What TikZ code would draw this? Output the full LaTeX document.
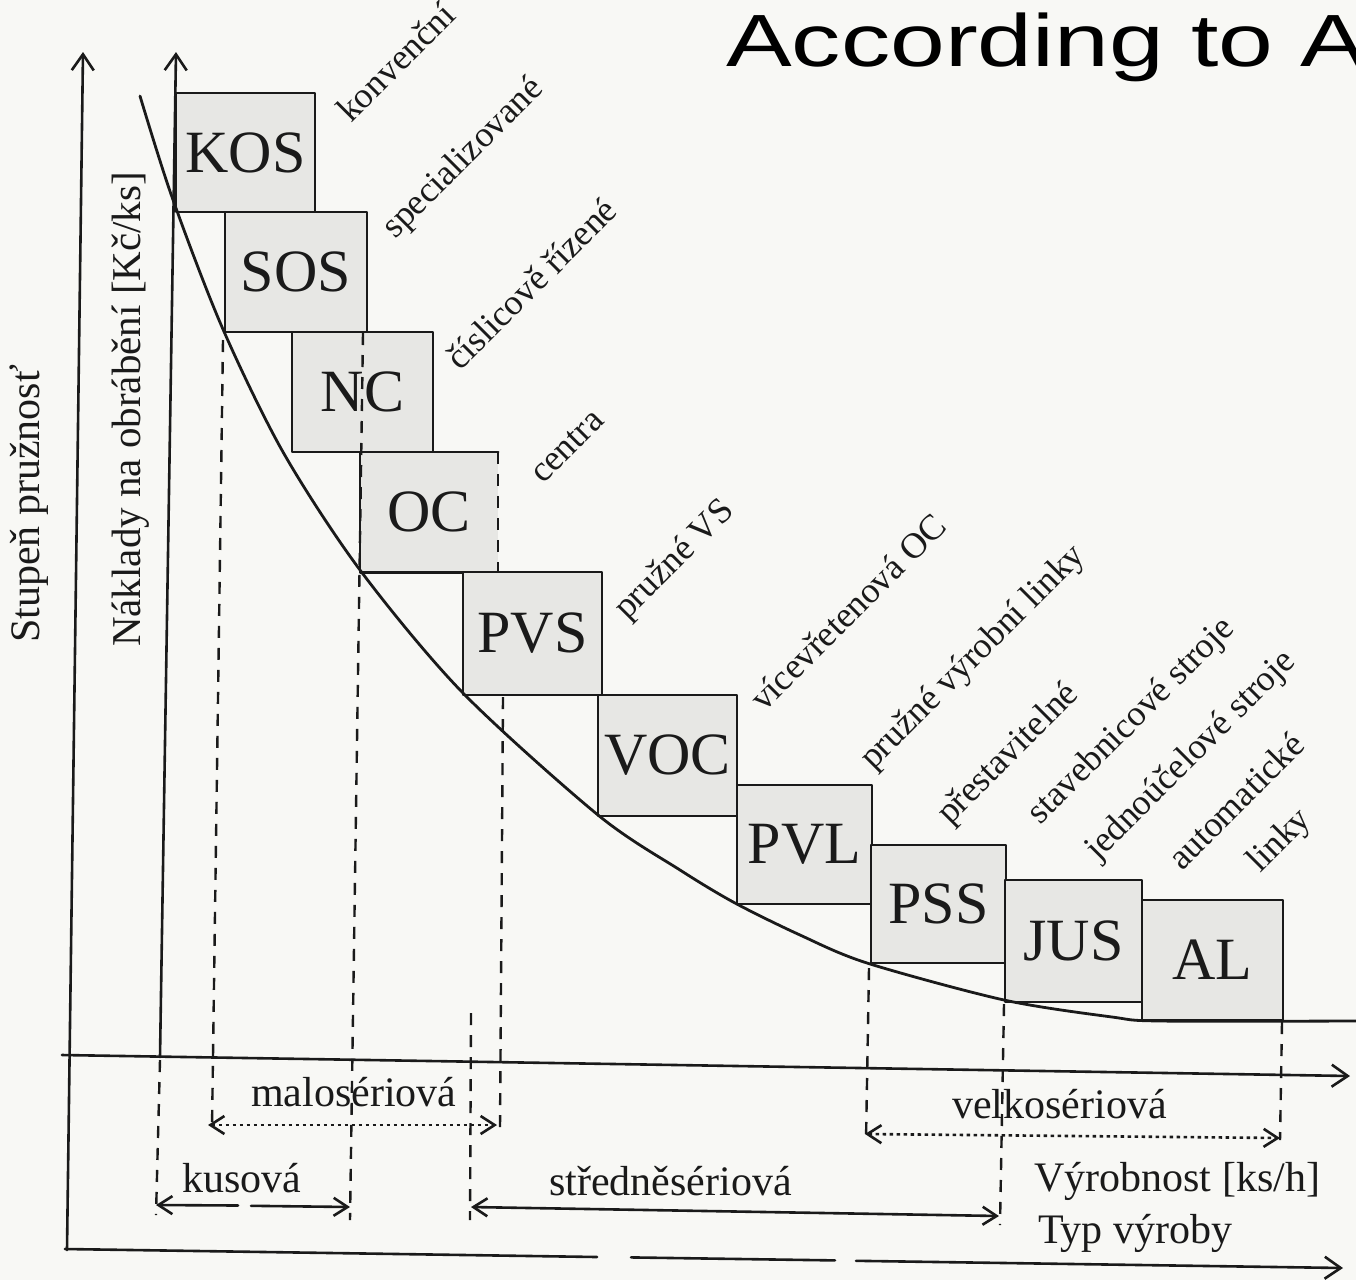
\documentclass[tikz,border=0pt]{standalone}
\usepackage{fontspec}
\setmainfont{Liberation Serif}
\newfontfamily\titlefont{Liberation Sans}
\usetikzlibrary{arrows.meta}
\definecolor{bgc}{HTML}{F8F8F5}
\definecolor{boxfill}{HTML}{E7E7E4}
\definecolor{ink}{HTML}{1A1A1A}
\tikzset{
  ln/.style={line width=2.6pt, draw=ink, line cap=round, line join=round},
  barb/.tip={Straight Barb[length=14pt,width=18pt,line width=2.6pt]},
  bigbarb/.tip={Straight Barb[length=16pt,width=22pt,line width=2.6pt]},
  boxnode/.style={rectangle, inner sep=0pt, fill=boxfill, text=ink,
    font=\fontsize{60}{60}\selectfont},
  framed/.style={boxnode, ln},
  drop/.style={line width=2.4pt, draw=ink, dash pattern=on 12pt off 10pt},
  dotarr/.style={line width=2.6pt, draw=ink, dash pattern=on 3.5pt off 3.5pt, barb-barb},
  solarr/.style={ln, barb-barb},
  tag/.style={rotate=45, anchor=base west, inner sep=0pt, text=ink,
    font=\fontsize{36}{36}\selectfont},
  lab/.style={anchor=base west, inner sep=0pt, text=ink,
    font=\fontsize{42}{42}\selectfont},
}
\begin{document}
\begin{tikzpicture}[x=1pt,y=-1pt]
\fill[bgc] (0,0) rectangle (1356,1280);
\useasboundingbox (0,0) rectangle (1356,1280);

% title
\node[anchor=base west, inner sep=0pt, font=\titlefont\fontsize{74}{74}\selectfont, xscale=1.33] (title) at (726,66) {According to A};

% boxes
\node[framed, minimum width=139pt, minimum height=119pt] (kos) at (245.5,152.5) {KOS};
\node[framed, minimum width=142pt, minimum height=120pt] (sos) at (296,272) {SOS};
\node[framed, minimum width=141pt, minimum height=120pt] (nc) at (362.5,392) {NC};
\node[boxnode, minimum width=138pt, minimum height=120pt] (oc) at (429,512) {OC};
\draw[ln] (oc.north east) -- (oc.north west) -- (oc.south west) -- (oc.south east);
\draw[drop] (oc.north east) -- (oc.south east);
\node[framed, minimum width=139pt, minimum height=123pt] (pvs) at (532.5,633.5) {PVS};
\node[framed, minimum width=139pt, minimum height=121pt] (voc) at (667.5,755.5) {VOC};
\node[framed, minimum width=135pt, minimum height=119pt] (pvl) at (804.5,844.5) {PVL};
\node[framed, minimum width=135pt, minimum height=118pt] (pss) at (938.5,904) {PSS};
\node[framed, minimum width=137pt, minimum height=122pt] (jus) at (1073.5,941) {JUS};
\node[framed, minimum width=141pt, minimum height=120pt] (al) at (1212.5,960) {AL};

% axes
\coordinate (o1) at (67,1250);
\coordinate (y1) at (83,52);
\coordinate (o2) at (160,1057);
\coordinate (y2) at (176,52);
\coordinate (h1a) at (62,1055);
\coordinate (h1b) at (1350,1076);
\coordinate (h2a) at (65,1249);
\coordinate (h2b) at (597,1257);
\coordinate (h2c) at (631,1257.4);
\coordinate (h2d) at (835,1260.4);
\coordinate (h2e) at (856,1260.8);
\coordinate (h2f) at (1343,1268);
\draw[ln, -bigbarb] (o1) -- (y1);
\draw[ln, -bigbarb] (o2) -- (y2);
\draw[ln, -bigbarb] (h1a) -- (h1b);
\draw[ln] (h2a) -- (h2b);
\draw[ln] (h2c) -- (h2d);
\draw[ln, -bigbarb] (h2e) -- (h2f);

% cost curve
\draw[ln, line width=2.8pt] plot[smooth, tension=0.5] coordinates {
  (140,96) (172,197) (222,327) (283,452) (360,570) (462,692)
  (598,815) (680,870) (735,903) (800,935) (867,963) (1004,1000)
  (1112,1017) (1160,1021) (1356,1021)};

% dashed drop lines
\coordinate (d1a) at (223,340);  \coordinate (d1b) at (212,1128);
\coordinate (d2a) at (363,333);  \coordinate (d2b) at (350,1220);
\coordinate (d3a) at (503,697);  \coordinate (d3b) at (500,1128);
\coordinate (d4a) at (471,1013); \coordinate (d4b) at (470,1220);
\coordinate (d5a) at (160,1060); \coordinate (d5b) at (156,1215);
\coordinate (d6a) at (869,968);  \coordinate (d6b) at (866,1140);
\coordinate (d7a) at (1004,1004);\coordinate (d7b) at (1000,1225);
\coordinate (d8a) at (1282,1022);\coordinate (d8b) at (1280,1140);
\foreach \i in {1,...,8} {\draw[drop] (d\i a) -- (d\i b);}

% range arrows
\coordinate (ma) at (208,1125);  \coordinate (mb) at (497,1125);
\coordinate (va) at (865,1134);  \coordinate (vb) at (1280,1138);
\coordinate (ka) at (156,1205);  \coordinate (kg1) at (238,1205.5);
\coordinate (kg2) at (251,1205.8); \coordinate (kb) at (350,1207);
\coordinate (sa) at (471,1207);  \coordinate (sb) at (999,1216);
\draw[dotarr] (ma) -- (mb);
\draw[dotarr] (va) -- (vb);
\draw[ln, barb-] (ka) -- (kg1);
\draw[ln, -barb] (kg2) -- (kb);
\draw[solarr] (sa) -- (sb);

% axis labels
\node[rotate=90, anchor=base west, inner sep=0pt, text=ink, font=\fontsize{42}{42}\selectfont] (ylab1) at (39,643) {Stupeň pružnosť};
\node[rotate=90, anchor=base west, inner sep=0pt, text=ink, font=\fontsize{41}{41}\selectfont] (ylab2) at (140,647) {Náklady na obrábění [Kč/ks]};

% bottom labels
\node[lab] (tmalo) at (251,1106) {malosériová};
\node[lab] (tvelko) at (952,1118) {velkosériová};
\node[lab] (tkus) at (182,1192) {kusová};
\node[lab] (tstred) at (549,1195) {středněsériová};
\node[lab] (tvyrob) at (1034,1191) {Výrobnost [ks/h]};
\node[lab] (ttyp) at (1038,1243) {Typ výroby};

% machine type labels
\node[tag] (l1) at (351,124) {konvenční};
\node[tag] (l2) at (395,240) {specializované};
\node[tag] (l3) at (460,372) {číslicově řízené};
\node[tag] (l4) at (543,485) {centra};
\node[tag] (l5) at (627,621) {pružné VS};
\node[tag] (l6) at (764,713) {vícevřetenová OC};
\node[tag] (l7) at (873,771) {pružné výrobní linky};
\node[tag] (l8) at (950,826) {přestavitelné};
\node[tag] (l9) at (1040,826) {stavebnicové stroje};
\node[tag] (l10) at (1098,862) {jednoúčelové stroje};
\node[tag] (l11) at (1182,872) {automatické};
\node[tag] (l12) at (1260,874) {linky};
\end{tikzpicture}
\end{document}
